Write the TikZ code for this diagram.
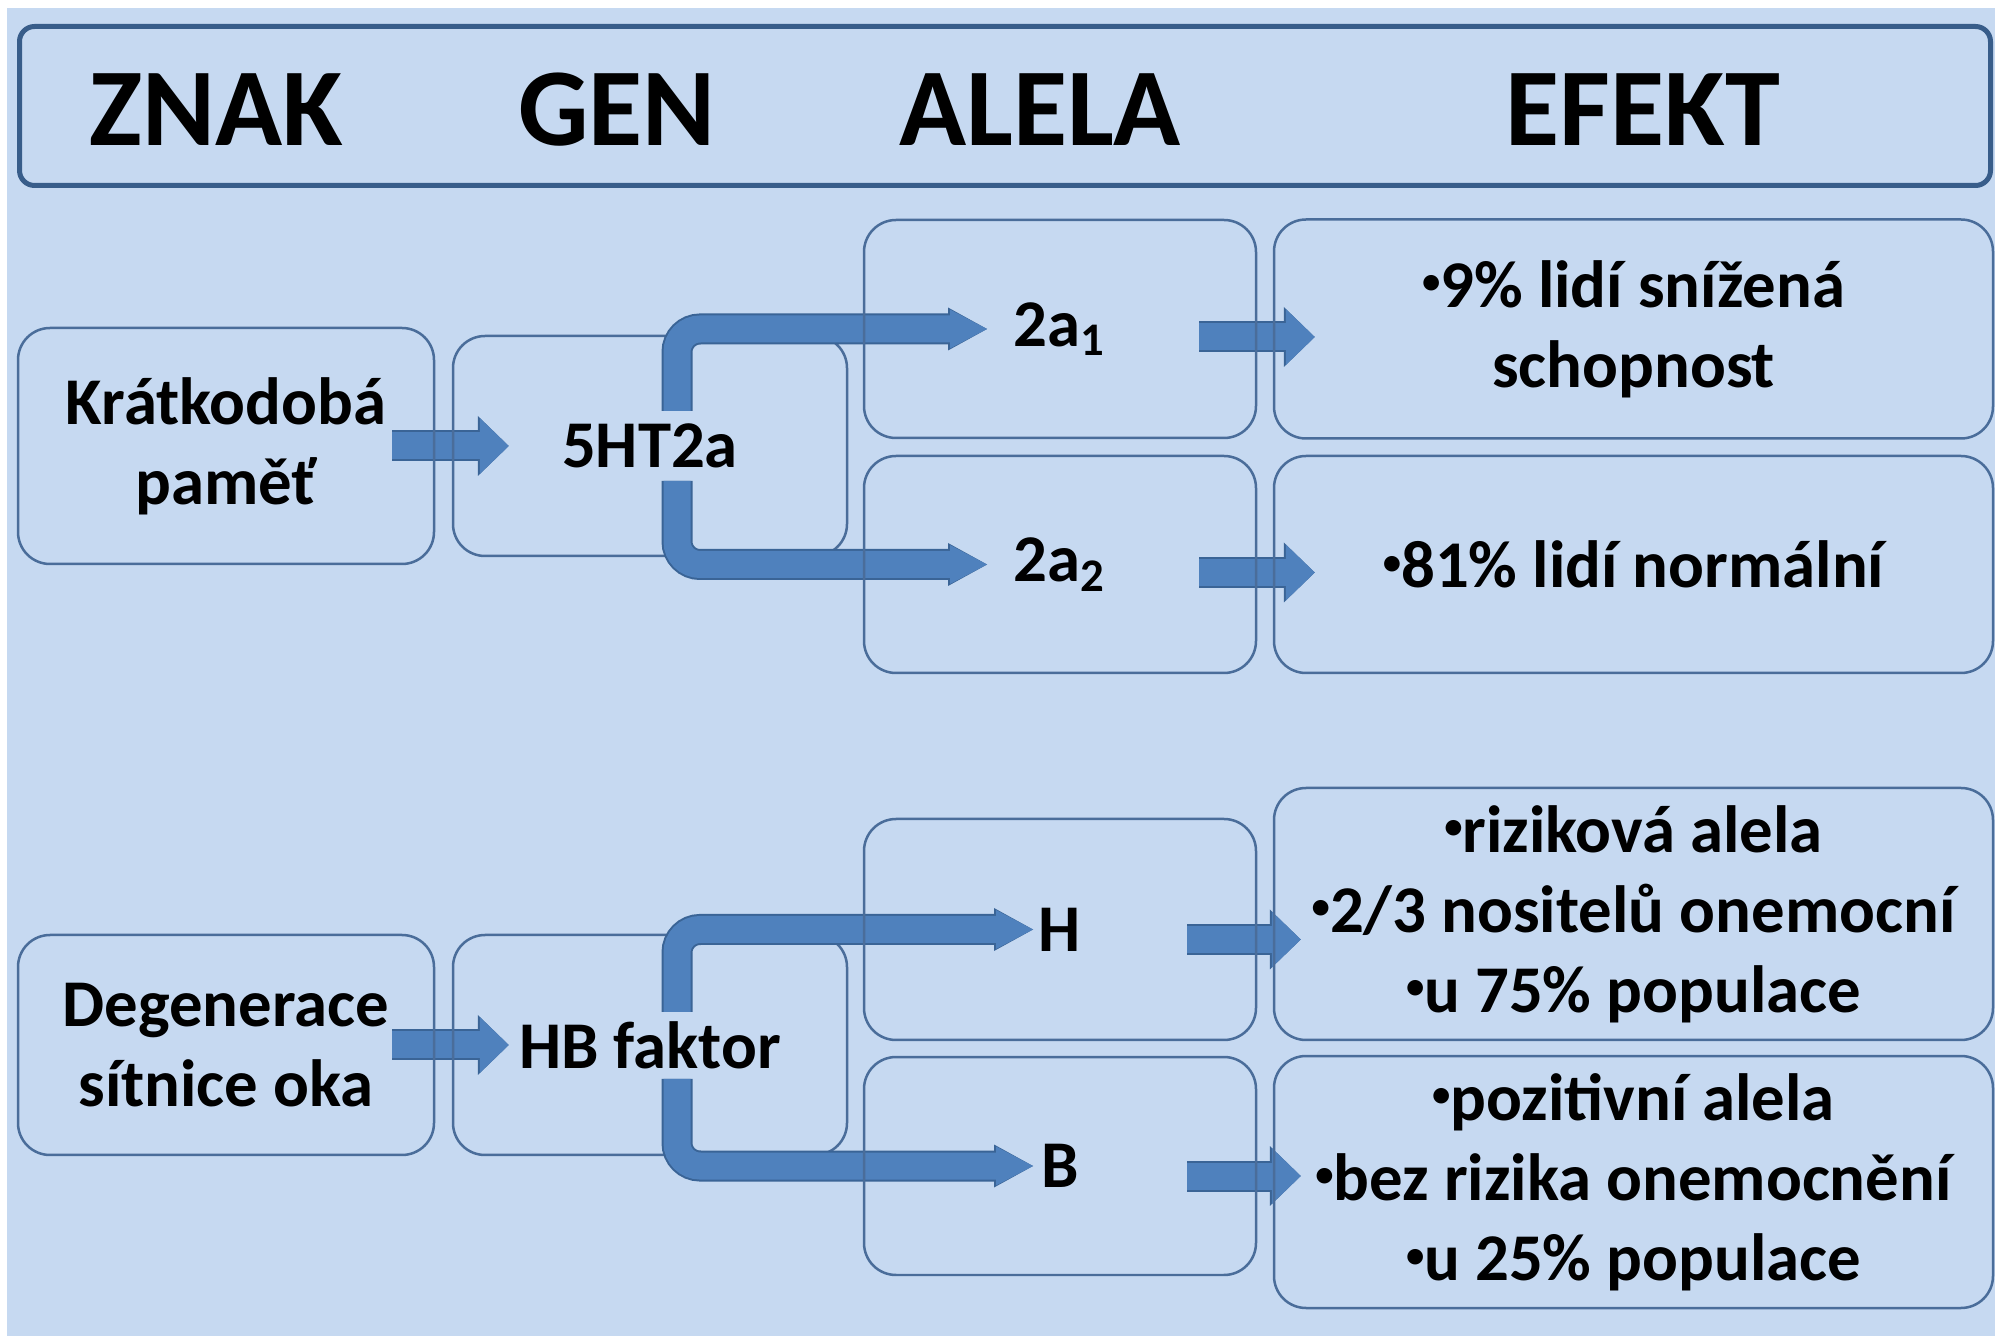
\documentclass[tikz,border=0pt]{standalone}
\usepackage{fontspec}
\setmainfont{Carlito}
\usetikzlibrary{arrows.meta, positioning}

\definecolor{sheet}{HTML}{C6D9F1}
\definecolor{frame}{HTML}{385D8A}
\definecolor{boxline}{HTML}{4A6D9A}
\definecolor{flowfill}{HTML}{4F81BD}
\definecolor{flowline}{HTML}{3A6496}

% small raised bullet for the effect lists
\newcommand{\bod}{\raisebox{0.2em}{\scalebox{0.55}{•}}}

\pgfdeclarelayer{back}
\pgfdeclarelayer{front}
\pgfsetlayers{back,main,front}

\begin{document}
\begin{tikzpicture}[
    x=0.1mm, y=-0.1mm,
    every node/.style={align=center, inner sep=0pt,
      font=\bfseries\fontsize{19pt}{22.8pt}\selectfont},
    title/.style={font=\bfseries\fontsize{31.5pt}{36pt}\selectfont},
    box/.style={draw=boxline, line width=0.25mm, rounded corners=3.2mm},
    znakbox/.style={box, minimum width=41.6mm},
    genbox/.style={box, minimum width=39.4mm, minimum height=22mm},
    alelabox/.style={box, minimum width=39.2mm},
    efektbox/.style={box, minimum width=71.9mm},
    block/.style={draw=flowfill, line width=2.7mm,
      -{Triangle[length=2.9mm, width=5.6mm, line width=0pt]},
      preaction={draw=flowline, line width=3.1mm,
        -{Triangle[length=3.1mm, width=6mm, line width=0pt]}}},
    bent/.style={draw=flowfill, line width=2.7mm, rounded corners=2.3mm,
      -{Triangle[length=3.7mm, width=3.9mm, line width=0pt]},
      preaction={draw=flowline, line width=3.1mm,
        -{Triangle[length=3.9mm, width=4.3mm, line width=0pt]}}}
]
\useasboundingbox (0,0) rectangle (1995,1336);
\begin{pgfonlayer}{back}
  \fill[white] (0,0) rectangle (1995,1336);
  \fill[sheet] (7,8) rectangle (1995,1336);
\end{pgfonlayer}

% Header
\node[draw=frame, line width=0.5mm, rounded corners=1.5mm,
  minimum width=197.1mm, minimum height=15.9mm] (header) at (1005,106) {};
\node[title] (tZnak) at (216,110) {ZNAK};
\node[title] (tGen) at (617,110) {GEN};
\node[title] (tAlela) at (1040,110) {ALELA};
\node[title] (tEfekt) at (1643,110) {EFEKT};

% Nodes: trait and gene
\node[znakbox, minimum height=23.6mm] (pamet) at (226,446) {Krátkodobá\\paměť};
\node[genbox] (gen5ht) at (650,446) {5HT2a};
\node[znakbox, minimum height=22mm] (sitnice) at (226,1045) {Degenerace\\sítnice oka};
\node[genbox] (genhb) at (650,1045) {HB faktor};

% Nodes: alleles and effects
\begin{pgfonlayer}{front}
\node[alelabox, minimum height=21.8mm] (a1) at (1060,329) {2a\textsubscript{1}};
\node[alelabox, minimum height=21.7mm] (a2) at (1060,564.5) {2a\textsubscript{2}};
\node[efektbox, minimum height=21.9mm] (ef1) at (1633.5,329) {\bod9\% lidí snížená\\schopnost};
\node[efektbox, minimum height=21.7mm] (ef2) at (1633.5,564.5) {\bod81\% lidí normální};

\node[alelabox, minimum height=22.1mm] (aH) at (1060,929.5) {H};
\node[alelabox, minimum height=21.8mm] (aB) at (1060,1166) {B};
\node[efektbox, minimum height=25.2mm] (ef3) at (1633.5,914) {\bod riziková alela\\\bod2/3 nositelů onemocní\\\bod u 75\% populace};
\node[efektbox, minimum height=25.2mm] (ef4) at (1633.5,1182) {\bod pozitivní alela\\\bod bez rizika onemocnění\\\bod u 25\% populace};
\end{pgfonlayer}

% Arrows
\begin{pgfonlayer}{back}
\draw[block] ([xshift=-4.3mm]pamet.east) -- ([xshift=5.7mm]gen5ht.west);
\draw[block] ([xshift=-5.8mm, yshift=-0.8mm]a1.east) -- ([xshift=4.2mm, yshift=-0.8mm]a1.east -| ef1.west);
\draw[block] ([xshift=-5.8mm, yshift=-0.8mm]a2.east) -- ([xshift=4.2mm, yshift=-0.8mm]a2.east -| ef2.west);
\draw[block] ([xshift=-4.3mm]sitnice.east) -- ([xshift=5.7mm]genhb.west);
\draw[block] ([xshift=-7mm, yshift=-1mm]aH.east) -- ([xshift=2.8mm, yshift=-1mm]aH.east -| ef3.west);
\draw[block] ([xshift=-7mm, yshift=-1mm]aB.east) -- ([xshift=2.8mm, yshift=-1mm]aB.east -| ef4.west);
\end{pgfonlayer}

\draw[bent] ([xshift=2.7mm, yshift=3.5mm]gen5ht.center) |- ([xshift=-7.3mm]a1.center);
\draw[bent] ([xshift=2.7mm, yshift=-3.5mm]gen5ht.center) |- ([xshift=-7.3mm]a2.center);
\draw[bent] ([xshift=2.7mm, yshift=3.3mm]genhb.center) |- ([xshift=-2.7mm]aH.center);
\draw[bent] ([xshift=2.7mm, yshift=-3.4mm]genhb.center) |- ([xshift=-2.7mm]aB.center);

\end{tikzpicture}
\end{document}
